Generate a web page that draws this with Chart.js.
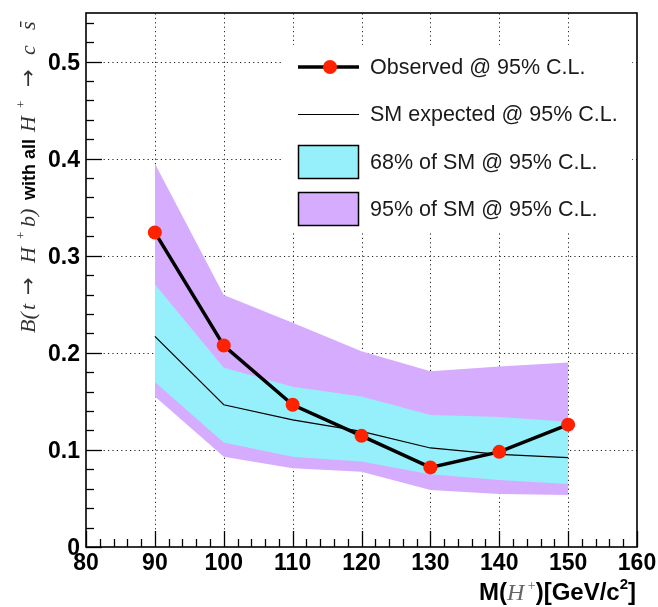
<!DOCTYPE html>
<html>
<head>
<meta charset="utf-8">
<script src="https://cdn.jsdelivr.net/npm/chart.js@4.4.0/dist/chart.umd.min.js"></script>
<style>
  html, body { margin: 0; padding: 0; background: #fff; }
  #wrap { width: 658px; height: 607px; }
</style>
</head>
<body>
<div id="wrap"><canvas id="chart"></canvas></div>
<script>
// masses in GeV/c^2 and limits on the branching ratio
const masses = [90, 100, 110, 120, 130, 140, 150];
const observed = [0.324, 0.2075, 0.1465, 0.1145, 0.082, 0.098, 0.126];
const expected = [0.217, 0.1465, 0.131, 0.119, 0.102, 0.0955, 0.092];
const band68Up = [0.2706, 0.1845, 0.165, 0.155, 0.136, 0.134, 0.129];
const band68Down = [0.170, 0.1076, 0.093, 0.088, 0.075, 0.069, 0.065];
const band95Up = [0.395, 0.2596, 0.231, 0.2017, 0.181, 0.186, 0.190];
const band95Down = [0.155, 0.093, 0.081, 0.0776, 0.0586, 0.0545, 0.0535];

const xTicks = [80, 90, 100, 110, 120, 130, 140, 150, 160];
const yTicks = [0, 0.1, 0.2, 0.3, 0.4, 0.5];
const legendLabels = ['Observed @ 95% C.L.', 'SM expected @ 95% C.L.', '68% of SM @ 95% C.L.', '95% of SM @ 95% C.L.'];

const CYAN = '#96f0fc';
const VIOLET = '#d6adfe';
const RED = '#ff2200';
const SER = '"Liberation Serif", "Times New Roman", serif';
const SANS = '"Liberation Sans", Arial, sans-serif';

function pts(arr) {
    return masses.map((m, i) => ({ x: m, y: arr[i] }));
}

// draws text pieces one after the other (or at their own "at" offset)
function richText(ctx, parts, x, y, measureOnly) {
    let cx = x;
    parts.forEach(p => {
        ctx.font = p.f;
        ctx.fillStyle = p.c || '#000';
        if (p.at !== undefined) cx = x + p.at;
        const w = ctx.measureText(p.t).width;
        if (!measureOnly) {
            ctx.fillText(p.t, cx, y + (p.dy || 0));
            if (p.bar) ctx.fillRect(cx + 3, y - 15, w - 3, 1.4);
        }
        cx += w;
    });
    return cx - x;
}

const gridPlugin = {
    id: 'rootGrid',
    beforeDatasetsDraw(chart) {
        const { ctx, chartArea: a, scales: { x, y } } = chart;
        ctx.save();
        ctx.strokeStyle = '#222';
        ctx.lineWidth = 1;
        ctx.setLineDash([1.2, 3.2]);
        xTicks.slice(1, -1).forEach(v => {
            const px = Math.round(x.getPixelForValue(v)) + 0.5;
            ctx.beginPath(); ctx.moveTo(px, a.bottom); ctx.lineTo(px, a.top); ctx.stroke();
        });
        yTicks.slice(1).forEach(v => {
            const py = Math.round(y.getPixelForValue(v)) + 0.5;
            ctx.beginPath(); ctx.moveTo(a.left, py); ctx.lineTo(a.right, py); ctx.stroke();
        });
        ctx.restore();
    }
};

const framePlugin = {
    id: 'rootFrame',
    afterDatasetsDraw(chart) {
        const { ctx, chartArea: a, scales: { x, y } } = chart;
        const ds = chart.data.datasets;
        ctx.save();

        // legend
        ctx.fillStyle = '#fff';
        ctx.fillRect(283, 45, 349, 188);
        const lx0 = 298, lx1 = 359, tx = 370;
        const rows = [67, 114, 162, 209];
        ctx.strokeStyle = '#000';
        ctx.lineWidth = ds[0].borderWidth;
        ctx.beginPath(); ctx.moveTo(lx0, rows[0]); ctx.lineTo(lx1, rows[0]); ctx.stroke();
        ctx.fillStyle = ds[0].pointBackgroundColor;
        ctx.beginPath(); ctx.arc(330, rows[0], ds[0].pointRadius, 0, Math.PI * 2); ctx.fill();
        ctx.lineWidth = ds[1].borderWidth;
        ctx.beginPath(); ctx.moveTo(lx0, rows[1] + 0.5); ctx.lineTo(lx1, rows[1] + 0.5); ctx.stroke();
        ctx.lineWidth = 1.5;
        [[ds[2].backgroundColor, rows[2]], [ds[4].backgroundColor, rows[3]]].forEach(([col, r]) => {
            ctx.fillStyle = col;
            ctx.fillRect(lx0, r - 17, lx1 - lx0, 34);
            ctx.strokeRect(lx0 + 0.5, r - 16.5, lx1 - lx0 - 1, 33);
        });
        ctx.fillStyle = '#1a1a1a';
        ctx.font = '21.5px ' + SANS;
        ctx.textBaseline = 'middle';
        legendLabels.forEach((t, i) => ctx.fillText(t, tx, rows[i] + 1));

        // frame
        ctx.strokeStyle = '#000';
        ctx.lineWidth = 1.6;
        ctx.strokeRect(a.left, a.top, a.right - a.left, a.bottom - a.top);

        // tick marks (major + minor) pointing into the frame
        ctx.lineWidth = 1.3;
        for (let i = 0; i <= 27; i++) {
            const py = Math.round(y.getPixelForValue(i * 0.02)) + 0.5;
            const len = i % 5 === 0 ? 16 : 8;
            ctx.beginPath(); ctx.moveTo(a.left, py); ctx.lineTo(a.left + len, py); ctx.stroke();
        }
        for (let i = 0; i <= 40; i++) {
            const px = Math.round(x.getPixelForValue(80 + i * 2)) + 0.5;
            const len = i % 5 === 0 ? 16 : 8;
            ctx.beginPath(); ctx.moveTo(px, a.bottom); ctx.lineTo(px, a.bottom - len); ctx.stroke();
        }

        // axis titles
        ctx.textBaseline = 'alphabetic';
        const xParts = [
            { t: 'M(', f: 'bold 24px ' + SANS },
            { t: 'H', f: 'italic 24px ' + SER, c: '#666' },
            { t: ' +', f: '14px ' + SER, dy: -10, c: '#666' },
            { t: ')[GeV/c', f: 'bold 24px ' + SANS },
            { t: '2', f: 'bold 15px ' + SANS, dy: -11 },
            { t: ']', f: 'bold 24px ' + SANS }
        ];
        const wx = richText(ctx, xParts, 0, 0, true);
        richText(ctx, xParts, 636 - wx, 600);

        const it = 'italic 22px ' + SER;
        const arrow = '21px "DejaVu Sans", sans-serif';
        const yParts = [
            { t: 'B(', f: it, c: '#333', at: 0 },
            { t: 't', f: it, c: '#333', at: 23 },
            { t: '\u2192', f: arrow, c: '#333', at: 38 },
            { t: 'H', f: it, c: '#333', at: 70 },
            { t: '+', f: '13px ' + SER, dy: -10, c: '#333', at: 94 },
            { t: 'b)', f: it, c: '#333', at: 106 },
            { t: 'with all', f: 'bold 18px ' + SANS, at: 133 },
            { t: 'H', f: it, c: '#333', at: 201 },
            { t: '+', f: '13px ' + SER, dy: -10, c: '#333', at: 225 },
            { t: '\u2192', f: arrow, c: '#333', at: 246 },
            { t: 'c', f: it, c: '#333', at: 278 },
            { t: 's', f: it, c: '#333', bar: true, at: 303 }
        ];
        ctx.translate(35, 333);
        ctx.rotate(-Math.PI / 2);
        richText(ctx, yParts, 0, 0);
        ctx.restore();
    }
};

new Chart(document.getElementById('chart'), {
    type: 'line',
    data: {
        datasets: [
            {
                label: legendLabels[0], data: pts(observed), order: 0,
                borderColor: '#000', borderWidth: 3.5, pointRadius: 7,
                pointBackgroundColor: RED, pointBorderWidth: 0, fill: false
            },
            {
                label: legendLabels[1], data: pts(expected), order: 1,
                borderColor: '#000', borderWidth: 1.2, pointRadius: 0, fill: false
            },
            {
                label: legendLabels[2], data: pts(band68Up), order: 2,
                borderWidth: 0, pointRadius: 0, backgroundColor: CYAN, fill: 3
            },
            {
                label: '68 low', data: pts(band68Down), order: 2,
                borderWidth: 0, pointRadius: 0, fill: false
            },
            {
                label: legendLabels[3], data: pts(band95Up), order: 3,
                borderWidth: 0, pointRadius: 0, backgroundColor: VIOLET, fill: 5
            },
            {
                label: '95 low', data: pts(band95Down), order: 3,
                borderWidth: 0, pointRadius: 0, fill: false
            }
        ]
    },
    options: {
        responsive: true,
        maintainAspectRatio: false,
        animation: false,
        devicePixelRatio: 1,
        layout: { padding: { top: 13, right: 21, left: 0, bottom: 0 } },
        plugins: {
            legend: { display: false },
            tooltip: { enabled: false }
        },
        scales: {
            x: {
                type: 'linear', min: 80, max: 160,
                grid: { display: false, drawTicks: false },
                border: { display: false },
                afterBuildTicks: s => { s.ticks = xTicks.map(v => ({ value: v })); },
                afterFit: s => { s.height = 60; s.paddingLeft = 0; s.paddingRight = 0; },
                ticks: {
                    color: '#000', padding: 3, maxRotation: 0, autoSkip: false,
                    font: { family: SANS, size: 23, weight: 'bold' }
                }
            },
            y: {
                type: 'linear', min: 0, max: 0.55,
                grid: { display: false, drawTicks: false },
                border: { display: false },
                afterBuildTicks: s => { s.ticks = yTicks.map(v => ({ value: v })); },
                afterFit: s => { s.width = 86; s.paddingTop = 0; s.paddingBottom = 0; },
                ticks: {
                    color: '#000', padding: 6, autoSkip: false, labelOffset: 2,
                    font: { family: SANS, size: 23, weight: 'bold' },
                    callback: v => (v === 0 ? '0' : v.toFixed(1))
                }
            }
        }
    },
    plugins: [gridPlugin, framePlugin]
});
</script>
</body>
</html>
